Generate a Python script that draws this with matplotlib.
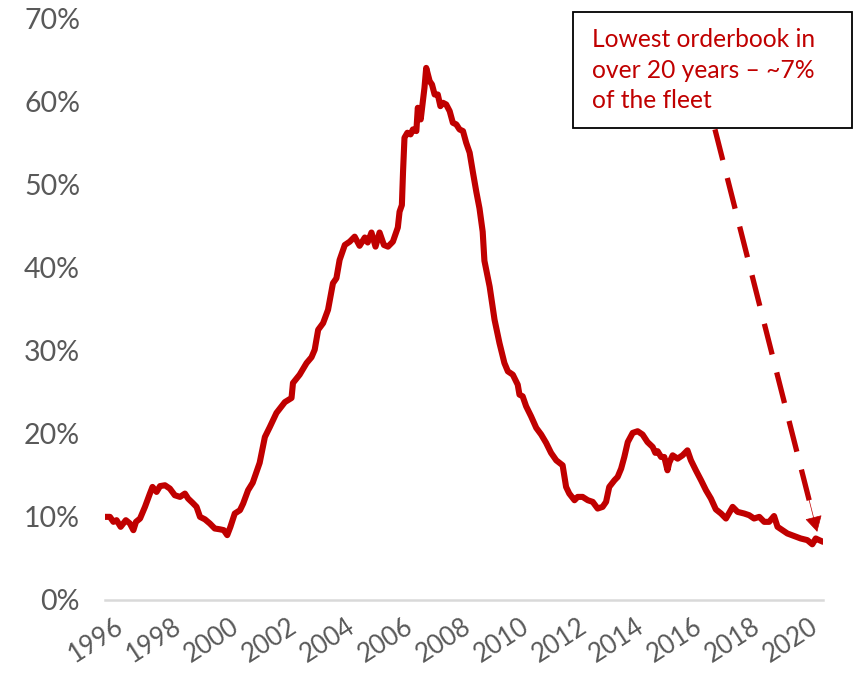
import numpy as np
import matplotlib.pyplot as plt
import matplotlib.transforms as mtransforms
from matplotlib.patches import Rectangle

# orderbook as % of fleet
years = [1996.00, 1996.17, 1996.29, 1996.40, 1996.54, 1996.72, 1996.86, 1996.98,
         1997.07, 1997.21, 1997.38, 1997.55, 1997.64, 1997.78, 1997.90, 1998.07,
         1998.24, 1998.41, 1998.59, 1998.76, 1998.87, 1999.02, 1999.16, 1999.28,
         1999.45, 1999.62, 1999.79, 1999.97, 2000.10, 2000.22, 2000.33, 2000.48,
         2000.66, 2000.77, 2000.94, 2001.10, 2001.34, 2001.52, 2001.69, 2001.92,
         2002.21, 2002.44, 2002.49, 2002.72, 2002.96, 2003.13, 2003.24, 2003.36,
         2003.53, 2003.70, 2003.87, 2003.99, 2004.10, 2004.28, 2004.45, 2004.62,
         2004.79, 2004.97, 2005.07, 2005.20, 2005.34, 2005.48, 2005.63, 2005.77,
         2005.94, 2006.11, 2006.17, 2006.25, 2006.29, 2006.34, 2006.44, 2006.55,
         2006.63, 2006.75, 2006.80, 2006.90, 2007.03, 2007.09, 2007.21, 2007.29,
         2007.38, 2007.49, 2007.58, 2007.67, 2007.78, 2007.90, 2008.01, 2008.13,
         2008.24, 2008.36, 2008.47, 2008.59, 2008.70, 2008.82, 2008.93, 2009.04,
         2009.10, 2009.28, 2009.45, 2009.62, 2009.79, 2009.91, 2010.08, 2010.25,
         2010.31, 2010.42, 2010.54, 2010.71, 2010.89, 2011.06, 2011.23, 2011.40,
         2011.58, 2011.80, 2011.92, 2012.03, 2012.21, 2012.32, 2012.49, 2012.67,
         2012.84, 2013.01, 2013.18, 2013.30, 2013.41, 2013.59, 2013.70, 2013.82,
         2013.93, 2014.05, 2014.22, 2014.39, 2014.56, 2014.73, 2014.91, 2015.00,
         2015.08, 2015.20, 2015.31, 2015.42, 2015.48, 2015.60, 2015.77, 2015.94,
         2016.11, 2016.23, 2016.40, 2016.58, 2016.75, 2016.92, 2017.09, 2017.27,
         2017.44, 2017.67, 2017.84, 2018.07, 2018.24, 2018.41, 2018.59, 2018.76,
         2018.93, 2019.10, 2019.22, 2019.39, 2019.56, 2019.79, 2020.02, 2020.25,
         2020.42, 2020.54, 2020.66, 2020.79]
orderbook = [10.0, 10.0, 9.4, 9.6, 8.8, 9.6, 9.2, 8.4,
             9.4, 9.8, 11.2, 12.8, 13.6, 13.0, 13.7, 13.8,
             13.4, 12.6, 12.4, 12.8, 12.2, 11.7, 11.2, 10.0,
             9.7, 9.2, 8.6, 8.5, 8.4, 7.8, 8.8, 10.4,
             10.8, 11.6, 13.2, 14.1, 16.5, 19.6, 20.8, 22.5,
             23.8, 24.3, 26.1, 27.1, 28.5, 29.2, 30.1, 32.5,
             33.3, 34.9, 38.1, 38.7, 40.9, 42.7, 43.1, 43.7,
             42.6, 43.6, 43.0, 44.2, 42.5, 44.2, 42.7, 42.5,
             43.1, 44.8, 46.7, 47.5, 51.5, 55.6, 56.2, 56.0,
             56.6, 56.4, 59.2, 57.8, 61.6, 64.0, 62.4, 62.0,
             60.8, 60.8, 59.4, 59.8, 59.6, 58.8, 57.4, 57.2,
             56.6, 56.4, 55.0, 53.8, 51.5, 49.1, 47.1, 44.3,
             40.8, 37.7, 33.7, 30.9, 28.5, 27.5, 27.1, 25.9,
             24.7, 24.5, 23.3, 22.1, 20.7, 19.9, 18.9, 17.7,
             16.8, 16.2, 13.6, 12.8, 12.0, 12.4, 12.4, 12.0,
             11.8, 11.0, 11.2, 11.8, 13.6, 14.4, 14.8, 15.8,
             17.2, 19.0, 20.1, 20.3, 19.9, 19.0, 18.4, 17.7,
             17.9, 17.2, 17.2, 15.6, 16.5, 17.4, 17.0, 17.4,
             18.0, 16.8, 15.6, 14.4, 13.2, 12.2, 10.9, 10.4,
             9.8, 11.2, 10.6, 10.4, 10.2, 9.8, 10.0, 9.4,
             9.4, 10.1, 8.8, 8.4, 8.0, 7.7, 7.4, 7.2,
             6.7, 7.4, 7.2, 7.0]

tick_years = list(range(1996, 2021, 2))
pct_ticks = list(range(0, 71, 10))
note = 'Lowest orderbook in\nover 20 years \u2013 ~7%\nof the fleet'

red = '#C00000'
grey = '#595959'
plt.rcParams['font.family'] = ['Lato', 'DejaVu Sans']

fig = plt.figure(figsize=(8.58, 6.81), dpi=100)
ax = fig.add_axes([105/858, 81/681, 718/858, 582/681])

ax.plot(years, orderbook, color=red, lw=4.4, solid_joinstyle='round', solid_capstyle='round')

ax.set_xlim(1996, 2020.79)
ax.set_ylim(0, 70)
ax.set_yticks(pct_ticks)
ax.set_yticklabels(['%d%%' % v for v in pct_ticks])
ax.set_xticks(tick_years)
ax.set_xticklabels([str(y) for y in tick_years], rotation=33, ha='right',
                   va='top', rotation_mode='anchor')
ax.tick_params(axis='y', length=0, pad=18, labelsize=20.5, labelcolor=grey)
ax.tick_params(axis='x', length=0, pad=10, labelsize=18.5, labelcolor=grey)

# nudge the year labels right, like the original's layout
shift = mtransforms.ScaledTranslation(9/100, 0, fig.dpi_scale_trans)
for lab in ax.get_xticklabels():
    lab.set_transform(lab.get_transform() + shift)

for s in ['top', 'right', 'left']:
    ax.spines[s].set_visible(False)
ax.spines['bottom'].set_color('#D9D9D9')
ax.spines['bottom'].set_linewidth(1.8)

# dashed arrow to the latest value
x0, y0 = 2017.06, 56.6
x1, y1 = 2020.59, 8.2
t = 0.95
ax.plot([x0, x0 + (x1 - x0) * t], [y0, y0 + (y1 - y0) * t], color=red, lw=3.8,
        dashes=(6, 3.5), solid_capstyle='butt')
ax.annotate('', xy=(x1, y1), xytext=(x0 + (x1 - x0) * 0.92, y0 + (y1 - y0) * 0.92),
            arrowprops=dict(arrowstyle='-|>,head_length=1.0,head_width=0.55',
                            color=red, lw=0.5, shrinkA=0, shrinkB=0))

fig.patches.append(Rectangle((573/858, 1 - 128/681), 279/858, 116/681,
                             transform=fig.transFigure, facecolor='white',
                             edgecolor='black', lw=1.3, zorder=5))
fig.text(592/858, 1 - 70/681, note, color=red, fontsize=17.7, ha='left', va='center',
         linespacing=1.42, zorder=6)

fig.savefig('out.png', dpi=100)
